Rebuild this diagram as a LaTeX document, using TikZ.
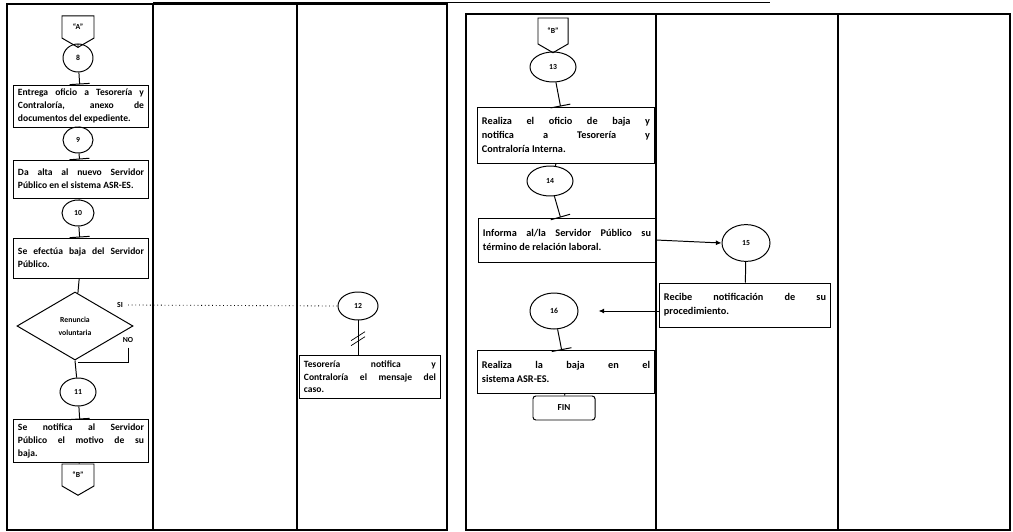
\documentclass[tikz,border=0pt]{standalone}
\usepackage{fontspec}
\setmainfont{Carlito}
\usetikzlibrary{shapes.geometric,shapes.symbols,arrows.meta,calc}

\begin{document}
\begin{tikzpicture}[x=0.025cm,y=-0.025cm,line width=0.7pt,
  paso/.style={draw, ellipse, inner sep=0pt, font=\fontsize{5.5}{6}\selectfont\bfseries},
  caja/.style={draw, rectangle, inner sep=3pt, align=justify, text width=3.15cm, font=\fontsize{6.8}{9}\selectfont\bfseries},
  cajad/.style={caja, text width=4.2cm, font=\fontsize{7.3}{10}\selectfont\bfseries},
  conector/.style={draw, signal, signal to=south, signal pointer angle=120, inner sep=1pt, minimum width=0.8cm, minimum height=0.65cm, font=\fontsize{5.5}{6}\selectfont\bfseries},
  decision/.style={draw, diamond, inner sep=0pt, minimum width=2.9cm, minimum height=1.7cm, align=center, font=\fontsize{5.5}{9}\selectfont\bfseries},
  fin/.style={draw, rounded corners=2pt, minimum width=1.55cm, minimum height=0.6cm, font=\fontsize{6.5}{7}\selectfont\bfseries},
  tope/.style={-{Bar[width=0.5cm]}},
  flecha/.style={-{Latex[length=4pt,width=3.5pt]}}]

\useasboundingbox (0,0) rectangle (1013,532);

% Marcos
\draw[line width=1pt] (7,4) rectangle (447,530);
\draw[line width=1pt] (153,4) -- (153,530);
\draw[line width=1pt] (297,4) -- (297,530);
\draw[line width=1pt] (466,14) rectangle (1010,530);
\draw[line width=1pt] (656,14) -- (656,530);
\draw[line width=1pt] (838,14) -- (838,530);
\draw (153,2) -- (770,2);

% Carril 1
\node[conector] (oA) at (78,27) {“A”};
\node[paso, minimum width=0.75cm, minimum height=0.7cm] (c8) at (78,58) {8};
\node[caja, minimum height=1.05cm] (b8) at (81,106) {Entrega oficio a Tesorería y\linebreak Contraloría, anexo de\linebreak documentos del expediente.};
\node[paso, minimum width=0.75cm, minimum height=0.65cm] (c9) at (78,140) {9};
\node[caja, minimum height=0.95cm] (b9) at (81,179) {Da alta al nuevo Servidor\linebreak Público en el sistema ASR-ES.};
\node[paso, minimum width=0.8cm, minimum height=0.65cm] (c10) at (78,213) {10};
\node[caja, minimum height=1cm] (b10) at (81,258) {Se efectúa baja del Servidor\linebreak Público.};
\node[decision] (dec) at (75,326) {Renuncia\\voluntaria};
\node[font=\fontsize{5.5}{6}\selectfont\bfseries] (si) at (120,305) {SI};
\node[font=\fontsize{5.5}{6}\selectfont\bfseries] (no) at (128,340) {NO};
\coordinate (union) at (78,362);
\node[paso, minimum width=0.9cm, minimum height=0.7cm] (c11) at (78,392) {11};
\node[caja, minimum height=1.05cm] (b11) at (81,441) {Se notifica al Servidor\linebreak Público el motivo de su\linebreak baja.};
\node[conector] (oB) at (78,475) {“B”};

\draw (oA) -- (c8);
\draw[tope] (c8) -- (b8);
\draw (b8) -- (c9);
\draw[tope] (c9) -- (b9);
\draw (b9) -- (c10);
\draw[tope] (c10) -- (b10);
\draw (b10) -- (dec);
\draw (dec.south) -- (c11);
\draw (no.south) |- (union);
\draw[tope] (c11) -- (b11);
\draw (b11) -- (oB);

% Carril 3
\node[paso, minimum width=1cm, minimum height=0.7cm] (c12) at (358,306) {12};
\node[caja, text width=3.3cm, minimum height=1.08cm] (b12) at (370,377) {Tesorería notifica y\linebreak Contraloría el mensaje del\linebreak caso.};
\draw[dotted, line width=0.6pt] (si.east) -- (c12.west);
\draw (c12) -- (c12 |- b12.north) coordinate (m12);
\coordinate (mm) at ($(c12.south)!0.5!(m12)$);
\draw[line width=0.5pt] ([shift={(-7,3)}]mm) -- ++(14,-9);
\draw[line width=0.5pt] ([shift={(-7,8)}]mm) -- ++(14,-9);

% Carriles 4 y 5
\node[conector, minimum width=0.75cm, minimum height=0.75cm] (oB2) at (553,31) {“B”};
\node[paso, minimum width=1.15cm, minimum height=0.75cm] (c13) at (553,67) {13};
\node[cajad, minimum height=1.4cm] (b13) at (566,135) {Realiza el oficio de baja y\linebreak notifica a Tesorería y\linebreak Contraloría Interna.};
\node[paso, minimum width=1.15cm, minimum height=0.75cm] (c14) at (550,181) {14};
\node[cajad, minimum height=1.1cm] (b14) at (567,240) {Informa al/la Servidor Público su\linebreak término de relación laboral.};
\node[paso, minimum width=1.2cm, minimum height=0.92cm] (c15) at (746,243) {15};
\node[cajad, text width=4.05cm, minimum height=1.1cm] (b15) at (745,305) {Recibe notificación de su\linebreak procedimiento.};
\node[paso, minimum width=1.2cm, minimum height=0.9cm] (c16) at (554,311) {16};
\node[cajad, minimum height=1.07cm] (b16) at (566,372) {Realiza la baja en el\linebreak sistema ASR-ES.};
\node[fin] (fin) at (564,408) {FIN};

\draw (oB2) -- (c13);
\draw[tope] (c13) -- (b13);
\draw (b13) -- (c14);
\draw[tope] (c14) -- (b14);
\draw[flecha] (b14.east) -- (c15.west);
\draw (c15) -- (b15);
\draw[flecha, shorten >=0.5cm] (b15.west |- c16.east) -- (c16.east);
\draw[tope] (c16) -- (b16);
\draw (b16) -- (fin);

\end{tikzpicture}
\end{document}
